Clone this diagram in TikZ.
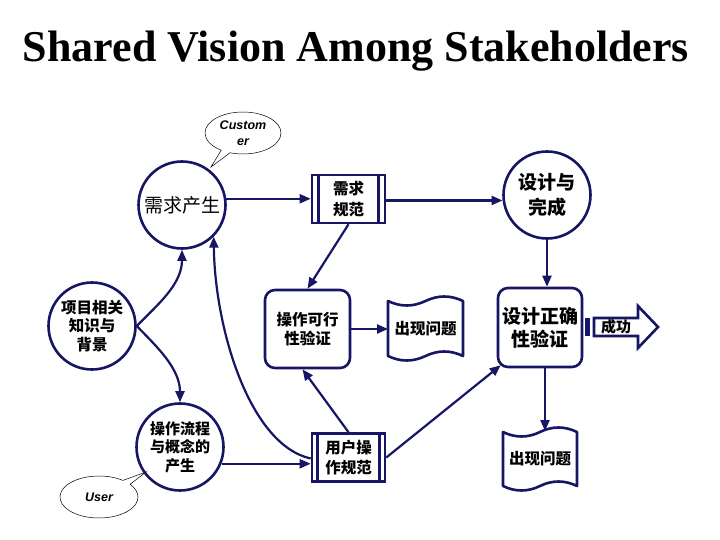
\documentclass[tikz,border=0pt]{standalone}
\usepackage{fontspec}
\setmainfont{Liberation Serif}
\newfontfamily\cjk{Noto Sans CJK SC}
\newfontfamily\arialf{Liberation Sans}
\usetikzlibrary{arrows.meta,shapes.callouts,shapes.geometric,calc}
\definecolor{navy}{RGB}{22,22,100}
\begin{document}
\begin{tikzpicture}[x=1pt,y=-1pt,
  circ/.style={circle,draw=navy,line width=2.6pt,fill=white,minimum size=87pt,inner sep=0pt,align=center},
  rbox/.style={rectangle,rounded corners=10pt,draw=navy,line width=2.6pt,fill=white,minimum width=85pt,minimum height=78pt,align=center,inner sep=0pt},
  pbox/.style={rectangle,draw=navy,line width=2.6pt,fill=white,minimum width=73pt,minimum height=48pt,align=center,inner sep=0pt},
  bigtxt/.style={font=\cjk\fontsize{19}{24}\selectfont},
  boldtxt/.style={font=\cjk\bfseries\fontsize{15.5}{18.5}\selectfont},
  plain/.style={inner sep=0pt,align=center},
  arr/.style={draw=navy,line width=2.2pt,-{Triangle[length=11pt,width=9pt]}},
  innerline/.style={draw=navy,line width=2.6pt},
  tapeshape/.style={draw=navy,line width=2.6pt,line join=round,fill=white},
  call/.style={ellipse callout,draw=black,line width=0.5pt,fill=white,minimum width=76pt,minimum height=42pt,inner sep=0pt,align=center,font=\arialf\bfseries\itshape\fontsize{12.5}{16}\selectfont}
]
\useasboundingbox (0,0) rectangle (720,540);
\fill[white] (0,0) rectangle (720,540);

% title
\node[anchor=base,inner sep=0pt,font=\bfseries\fontsize{44}{48}\selectfont] (title) at (356,62) {Shared Vision Among Stakeholders};

% circles
\node[circ,bigtxt] (xq) at (182,205) {需求产生};
\node[circ,font=\cjk\bfseries\fontsize{19}{25}\selectfont] (sj) at (547,195) {设计与\\完成};
\node[circ,boldtxt] (xm) at (92,326) {项目相关\\知识与\\背景};
\node[circ,font=\cjk\bfseries\fontsize{15}{18.5}\selectfont] (zl) at (180,447) {操作流程\\与概念的\\产生};

% predefined-process boxes
\node[pbox,font=\cjk\bfseries\fontsize{15.5}{21}\selectfont] (xg) at (348.5,199) {需求\\规范};
\draw[innerline] ([xshift=8pt]xg.north west) -- ([xshift=8pt]xg.south west);
\draw[innerline] ([xshift=-8pt]xg.north east) -- ([xshift=-8pt]xg.south east);
\node[pbox,font=\cjk\bfseries\fontsize{15.5}{20}\selectfont] (yh) at (348.5,457.5) {用户操\\作规范};
\draw[innerline] ([xshift=7pt]yh.north west) -- ([xshift=7pt]yh.south west);
\draw[innerline] ([xshift=-7pt]yh.north east) -- ([xshift=-7pt]yh.south east);

% rounded boxes
\node[rbox,font=\cjk\bfseries\fontsize{15.5}{19}\selectfont] (zkx) at (307.5,329) {操作可行\\性验证};
\node[rbox,minimum width=84pt,minimum height=79pt,font=\cjk\bfseries\fontsize{19}{23}\selectfont] (zq) at (540,327.5) {设计正确\\性验证};

% tapes
\draw[tapeshape] (388,301) .. controls (400.5,307) and (413,307) .. (425.5,301)
  .. controls (438,295) and (450.5,295) .. (463,301) -- (463,356)
  .. controls (450.5,350) and (438,350) .. (425.5,356)
  .. controls (413,362) and (400.5,362) .. (388,356) -- cycle;
\node[plain,boldtxt] (t1) at (425.5,329) {出现问题};
\draw[tapeshape] (503,432) .. controls (515.3,438) and (527.7,438) .. (540,432)
  .. controls (552.3,426) and (564.7,426) .. (577,432) -- (577,486)
  .. controls (564.7,480) and (552.3,480) .. (540,486)
  .. controls (527.7,492) and (515.3,492) .. (503,486) -- cycle;
\node[plain,boldtxt] (t2) at (540,459) {出现问题};

% success striped arrow
\fill[navy] (585,318) rectangle (590,336);
\draw[tapeshape,line join=miter] (594,318) -- (638,318) -- (638,306) -- (658,327) -- (638,348) -- (638,336) -- (594,336) -- cycle;
\node[plain,font=\cjk\bfseries\fontsize{15}{18}\selectfont] (cg) at (616,327) {成功};

% callouts
\coordinate (ctip) at (211,167);
\node[call,callout absolute pointer={(ctip)}] (cust) at (243,133) {Custom\\er};
\coordinate (utip) at (146,472);
\node[call,minimum width=78pt,callout absolute pointer={(utip)}] (user) at (99,497) {User};

% connectors
\draw[arr] (xq.8) -- (xq.8 -| xg.west);
\draw[arr] (xg.east |- sj.187) -- (sj.187);
\draw[arr] (sj.south) -- (sj.south |- zq.north);
\draw[arr] ([xshift=5pt]zq.south) -- (545,431);
\draw[arr] (zkx.east) -- (388,329);
\draw[arr] (xg.south) -- (zkx.north);
\draw[arr] (yh.north) -- ([xshift=-5pt]zkx.south);
\draw[arr] (yh.east) -- ([xshift=4pt,yshift=3pt]zq.south west);
\draw[arr] (zl.-22) -- (zl.-22 -| yh.west);
\draw[arr] (xm.east) .. controls (156,306) and (182,285) .. (xq.south);
\draw[arr] (xm.east) .. controls (156,346) and (180,368) .. (zl.north);
\draw[arr] ([yshift=-1pt]yh.west) .. controls (250,445) and (215,330) .. (xq.-45);
\end{tikzpicture}
\end{document}
